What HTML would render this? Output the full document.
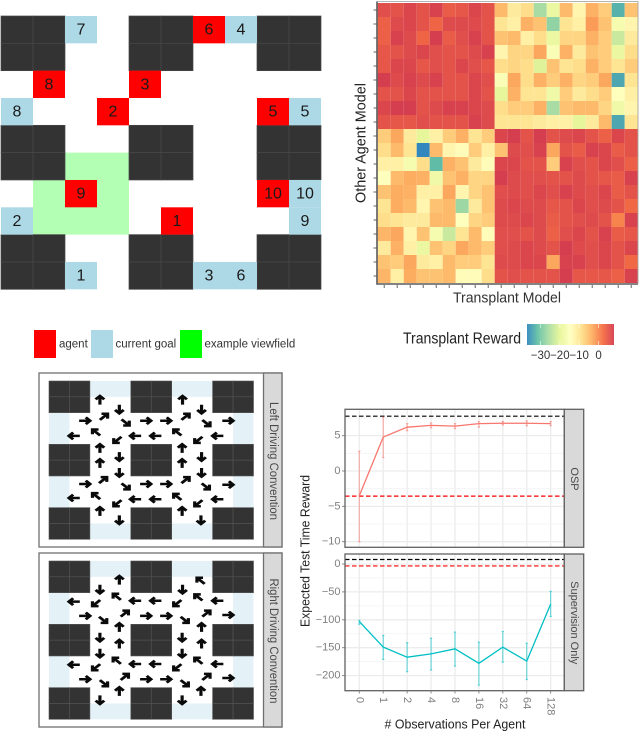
<!DOCTYPE html>
<html lang="en">
<head>
<meta charset="utf-8">
<title>Driving convention and transplant reward figure</title>
<style>
html,body{margin:0;padding:0;background:#fff;width:640px;height:732px;overflow:hidden}
svg{display:block;filter:blur(0.3px)}
text{font-family:"Liberation Sans",Arial,sans-serif}
</style>
</head>
<body>
<svg id="fig" xmlns="http://www.w3.org/2000/svg" width="640" height="732" viewBox="0 0 640 732">
  <g id="world"></g>
  <g id="heat"></g>
  <text x="507" y="298" font-size="15" fill="#333" text-anchor="middle" dominant-baseline="central" textLength="108" lengthAdjust="spacingAndGlyphs">Transplant Model</text>
  <text transform="translate(361,143) rotate(-90)" font-size="15" fill="#222" text-anchor="middle" dominant-baseline="central" textLength="120" lengthAdjust="spacingAndGlyphs">Other Agent Model</text>

  <g>
    <rect x="34" y="330" width="22" height="28" fill="#ff0000"/>
    <text x="59" y="344.5" font-size="11.5" fill="#333" dominant-baseline="central">agent</text>
    <rect x="91" y="330" width="22" height="28" fill="#add8e6"/>
    <text x="115.5" y="344.5" font-size="11.5" fill="#333" dominant-baseline="central">current goal</text>
    <rect x="180" y="330" width="22" height="28" fill="#00ff00"/>
    <text x="204.5" y="344.5" font-size="11.5" fill="#333" dominant-baseline="central">example viewfield</text>
  </g>

  <g>
    <defs>
      <linearGradient id="spectral" x1="0" x2="1" y1="0" y2="0">
        <stop offset="0" stop-color="#3288BD"/>
        <stop offset="0.125" stop-color="#66C2A5"/>
        <stop offset="0.25" stop-color="#ABDDA4"/>
        <stop offset="0.375" stop-color="#E6F598"/>
        <stop offset="0.5" stop-color="#FFFFBF"/>
        <stop offset="0.625" stop-color="#FEE08B"/>
        <stop offset="0.75" stop-color="#FDAE61"/>
        <stop offset="0.875" stop-color="#F46D43"/>
        <stop offset="1" stop-color="#D53E4F"/>
      </linearGradient>
    </defs>
    <text x="403" y="339" font-size="15.5" fill="#222" dominant-baseline="central" textLength="118" lengthAdjust="spacingAndGlyphs">Transplant Reward</text>
    <rect x="527" y="324" width="87" height="21" fill="url(#spectral)" opacity="0.95"/>
    <g id="cbticks"></g>
  </g>

  <g id="mapA"></g>
  <g id="mapB"></g>
  <g id="chart"></g>
</svg>
<script>
// ---------- chart data ----------
var obsLabels = ['0','1','2','4','8','16','32','64','128'];
var ospMean = [-3.5,4.8,6.2,6.45,6.35,6.7,6.75,6.75,6.7];
var ospLow  = [-10,1.9,5.7,6.1,6.0,6.2,6.5,6.4,6.4];
var ospHigh = [2.8,7.6,6.7,6.8,6.7,7.0,7.0,7.1,7.0];
var ospTicks = [5,0,-5,-10];
var ospMinor = [7.5,2.5,-2.5,-7.5];
var ospExpert = 7.75;
var ospBaseline = -3.55;
var supMean = [-103,-149,-167,-161,-152,-178,-149,-174,-72];
var supLow  = [-108,-171,-193,-190,-183,-217,-176,-207,-94];
var supHigh = [-101,-128,-141,-133,-122,-140,-121,-142,-49];
var supTicks = [0,-50,-100,-150,-200];
var supMinor = [-25,-75,-125,-175];
var supExpert = 8;
var supBaseline = -3.5;

var rewardTicks = [-30,-20,-10,0];
var heatValues = [
[5.5,5,6.5,5,7,4,4.5,6.5,5,-5,-11,-9,-26,-19,-5,-13,-4,-7,-33,-6],
[3.5,6,6.5,5,3,6,6,6,5,-10,-12,-4,-6,-28,-10,-12,-2,-6,-17,-13],
[3.5,7,6,3,7.5,4,5.5,7,5,-6,-5,-12,-9,-19,-8,-8,-4,-7,-23,-11],
[4.5,5,6,6.5,5.5,5,5,6,7,-13,-8,-8,-3,-16,-4,-11,-6,-7,-19,-9],
[4.5,6.5,6.5,4.5,5.5,5,6.5,5.5,4.5,-9,-8,-9,-21,-6,-10,-9,-4,-7,-10,-7],
[7.5,6,7,6,7,5,5,6.5,5.5,-16,-3,-9,-4,-7,-4,-8,-7,-3,-34,-10],
[5,5,6.5,5,5,5,5,6.5,5,-20,-4,-10,-10,-18,-7,-11,-9,-7,-15,-12],
[6.5,7.5,7.5,5,6,7,7,6.5,6,-9,-7,-7,-4,-26,-6,-5,-5,-8,-18,-13],
[5,4.5,4.5,5.5,5,5,5,7,6,-10,-10,-10,-11,-12,-12,-20,-11,-5,-34,-10],
[-7,-3,-11,-20,-12,-7,-4,-10,-7,6.5,7.5,5,7.5,5,6,6.5,5,3.5,6.5,5],
[-9,-5,-10,-37,-5,-13,-14,-7,-12,-6,6,5.5,7,-3,5,4,7,6.5,4,5],
[-12,-12,-17,-9,-32,-4,-6,-11,-14,6.5,6.5,5,5,-7,7,5.5,5,6.5,5.5,3.5],
[-15,-5,-3.5,-4,-18,-6,-4,-8,-8,7.5,6,5.5,5.5,5,5,6,5,4.5,4,7],
[-6,-3.5,-4,-12,-12,-3,-13,-8,-6,5.5,6,5.5,6.5,5.5,7,6,5.5,6.5,4,5],
[-10,-3.5,-5,-13,-6,-5,-27,-11,-6,6,6.5,6,6,4.5,5,6.5,5.5,6,5,2.5],
[-9,-10,-11,-11,-5,-5,-15,-8,-7,6,6,6.5,6,4,5,5.5,6,5,0,7],
[-4.5,-3,-13,-6,-17,-23,-10,-5,-14,5.5,5.5,5,6,3.5,5.5,6.5,5,7,4,4.5],
[-11,-4,-12,-19,-6,-8,-3,-5,-7,5.5,6,6.5,6,5,7.5,6,5.5,6.5,5,6.5],
[-6,-7,-3,-11,-12,-5,-7,-7,-10,6,6,6.5,6.5,-3,7,7,5.5,6.5,5,2.5],
[-4.5,-12,-3.5,-6,-6,-5,-14,-14,-9,5,5.5,5,5,5,7.5,4.5,4.5,4.5,3.5,7]
];

// ---------- gridworld data (col,row,label) ----------
var worldWalls = [[0,0],[4,0],[8,0],[0,4],[4,4],[8,4],[0,8],[4,8],[8,8]];
var worldView = [[2,5,2,1],[1,6,3,2]];
var worldAgents = [[5,7,'1'],[3,3,'2'],[4,2,'3'],[6,0,'6'],[8,3,'5'],[1,2,'8'],[2,6,'9'],[8,6,'10']];
var worldGoals = [[2,9,'1'],[0,7,'2'],[6,9,'3'],[7,0,'4'],[9,3,'5'],[7,9,'6'],[2,0,'7'],[0,3,'8'],[9,7,'9'],[9,6,'10']];

// ---------- policy data: cell-unit position + heading ----------
var leftPolicy = [
[2.49,1.2,'U'],[3.44,1.79,'D'],[6.53,1.2,'U'],[7.46,1.79,'D'],
[1.76,2.51,'R'],[2.69,2.25,'UR'],[3.75,2.63,'DR'],[4.74,2.51,'R'],[5.72,2.51,'R'],[6.68,2.25,'UR'],[7.7,2.67,'DR'],[8.76,2.51,'R'],
[1.22,3.47,'L'],[2.3,3.24,'UL'],[3.34,3.73,'DL'],[4.22,3.47,'L'],[5.21,3.47,'L'],[6.27,3.24,'UL'],[7.3,3.73,'DL'],[8.24,3.47,'L'],
[2.49,4.25,'U'],[3.44,4.78,'D'],[6.51,4.25,'U'],[7.46,4.78,'D'],
[2.49,5.2,'U'],[3.44,5.79,'D'],[6.51,5.2,'U'],[7.46,5.79,'D'],
[1.76,6.51,'R'],[2.65,6.25,'UR'],[3.75,6.67,'DR'],[4.74,6.51,'R'],[5.72,6.51,'R'],[6.68,6.25,'UR'],[7.67,6.67,'DR'],[8.76,6.55,'R'],
[1.22,7.39,'L'],[2.3,7.26,'UL'],[3.34,7.73,'DL'],[4.22,7.47,'L'],[5.21,7.47,'L'],[6.27,7.31,'UL'],[7.3,7.73,'DL'],[8.24,7.47,'L'],
[2.49,8.23,'U'],[3.44,8.78,'D'],[6.51,8.23,'U'],[7.43,8.78,'D']
];
var rightPolicy = [
[3.44,1.2,'U'],[2.49,1.79,'D'],[6.53,1.79,'D'],[7.41,1.24,'UL'],
[1.22,2.57,'L'],[2.3,2.67,'DL'],[3.31,2.25,'UL'],[4.22,2.51,'L'],[5.21,2.51,'L'],[6.27,2.67,'DL'],[7.3,2.29,'UL'],[8.24,2.51,'L'],
[1.76,3.47,'R'],[2.65,3.73,'DR'],[3.71,3.31,'UR'],[4.74,3.47,'R'],[5.72,3.47,'R'],[6.64,3.73,'DR'],[7.7,3.31,'UR'],[8.76,3.41,'R'],
[3.44,4.19,'U'],[2.49,4.82,'D'],[7.46,4.19,'U'],[6.51,4.82,'D'],
[3.44,5.24,'U'],[2.49,5.83,'D'],[7.46,5.24,'U'],[6.51,5.83,'D'],
[1.22,6.55,'L'],[2.3,6.72,'DL'],[3.31,6.29,'UL'],[4.22,6.51,'L'],[5.21,6.51,'L'],[6.27,6.72,'DL'],[7.3,6.29,'UL'],[8.24,6.51,'L'],
[1.76,7.47,'R'],[2.69,7.73,'DR'],[3.71,7.31,'UR'],[4.74,7.47,'R'],[5.72,7.47,'R'],[6.64,7.73,'DR'],[7.7,7.31,'UR'],[8.76,7.39,'R'],
[3.44,8.23,'U'],[2.49,8.78,'D'],[7.43,8.23,'U'],[6.51,8.78,'D']
];
var headingDegrees = {R:0,DR:45,D:90,DL:135,L:180,UL:225,U:270,UR:315};
var fieldCells = [[2,0,2,1],[6,0,2,1],[0,2,1,2],[9,2,1,2],[0,6,1,2],[9,6,1,2],[2,9,2,1],[6,9,2,1]];

// ---------- helpers ----------
var NS = 'http://www.w3.org/2000/svg';
function make(tag, attrs, parent, txt) {
  var e = document.createElementNS(NS, tag);
  for (var k in attrs) e.setAttribute(k, attrs[k]);
  if (txt !== undefined) e.textContent = txt;
  parent.appendChild(e);
  return e;
}
function fmt(v) { return String(v).replace('-', '\u2212'); }
function byId(id) { return document.getElementById(id); }

// ---------- gridworld ----------
(function () {
  var g = byId('world');
  var x0 = 1, y0 = 16, cw = 32, ch = 27.33;
  function X(c) { return x0 + cw * c; }
  function Y(r) { return y0 + ch * r; }
  worldView.forEach(function (v) {
    var e = make('rect', {x:X(v[0]), y:Y(v[1]), width:cw*v[2], height:ch*v[3], fill:'#b3ffb3'}, g);
    
    
  });
  worldWalls.forEach(function (w) {
    for (var i = 0; i < 2; i++) for (var j = 0; j < 2; j++) {
      var e = make('rect', {x:X(w[0]+i), y:Y(w[1]+j), width:cw, height:ch, fill:'#333333', stroke:'#484848', 'stroke-width':0.7}, g);
      
      
    }
  });
  function cells(list, color, name) {
    list.forEach(function (a) {
      var r = make('rect', {x:X(a[0]), y:Y(a[1]), width:cw, height:ch, fill:color}, g);
      
      
      var t = make('text', {x:X(a[0])+cw/2, y:Y(a[1])+ch/2+0.5, 'font-size':16, fill:'#1a1a1a', 'text-anchor':'middle', 'dominant-baseline':'central'}, g, a[2]);
      
      
    });
  }
  cells(worldAgents, '#ff0000', 'agent');
  cells(worldGoals, '#add8e6', 'goal');
})();

// ---------- heatmap ----------
var colorStops = ['#3288BD','#66C2A5','#ABDDA4','#E6F598','#FFFFBF','#FEE08B','#FDAE61','#F46D43','#D53E4F'];
var rewardMin = -37, rewardMax = 7.5, legendMax = 8;
function rewardColor(v) {
  var t = Math.max(0, Math.min(1, (v - rewardMin) / (rewardMax - rewardMin))) * 8;
  var i = Math.min(7, Math.floor(t)), f = t - i;
  function ch(hex, p) { return parseInt(hex.substr(p, 2), 16); }
  var a = colorStops[i], b = colorStops[i + 1];
  return 'rgb(' + [1,3,5].map(function (p) { return Math.round(ch(a,p) + (ch(b,p) - ch(a,p)) * f); }).join(',') + ')';
}
(function () {
  var g = byId('heat');
  var x0 = 377.7, y0 = 3, cw = 13, ch = 14;
  heatValues.forEach(function (row, r) {
    row.forEach(function (v, c) {
      var e = make('rect', {x:x0+c*cw, y:y0+r*ch, width:cw, height:ch, fill:rewardColor(v)}, g);
      
      
    });
  });
  for (var i = 0; i < 20; i++) {
    var a = make('line', {x1:x0+(i+.5)*cw, x2:x0+(i+.5)*cw, y1:285, y2:288, stroke:'#555', 'stroke-width':0.9}, g);
    
    
    var b = make('line', {x1:373.5, x2:376.5, y1:y0+(i+.5)*ch, y2:y0+(i+.5)*ch, stroke:'#555', 'stroke-width':0.9}, g);
    
    
  }
  var f = make('path', {d:'M377 1.5V284H638', fill:'none', stroke:'#5a5a5a', 'stroke-width':1.6}, g);
  
  
  var f2 = make('path', {d:'M377 1.5H638V284', fill:'none', stroke:'#9a9a9a', 'stroke-width':0.8}, g);
  
  

  var cb = byId('cbticks');
  function cbX(v) { return 527 + (v - rewardMin) / (legendMax - rewardMin) * 87; }
  rewardTicks.forEach(function (v) {
    var l = make('line', {x1:cbX(v), x2:cbX(v), y1:324, y2:345, stroke:'#fff', 'stroke-width':0.8, 'stroke-opacity':0.7, 'stroke-dasharray':'4 13'}, cb);
    
    
    var t = make('text', {x:cbX(v), y:356, 'font-size':11.5, fill:'#333', 'text-anchor':'middle', 'dominant-baseline':'central'}, cb, fmt(v));
    
    
  });
})();

// ---------- policy maps ----------
function drawPolicy(g, top, mapY, policy, label, labelY, labelLen, key) {
  var x0 = 49, cw = 20.45, ch = 15.83;
  function X(c) { return x0 + cw * c; }
  function Y(r) { return mapY + ch * r; }
  var fr = make('rect', {x:39, y:top, width:243, height:174, fill:'#fff', stroke:'#707070', 'stroke-width':1.3}, g);
  
  
  fieldCells.forEach(function (f) {
    var e = make('rect', {x:X(f[0]), y:Y(f[1]), width:cw*f[2], height:ch*f[3], fill:'#e4f2f8'}, g);
    
    
  });
  worldWalls.forEach(function (w) {
    for (var i = 0; i < 2; i++) for (var j = 0; j < 2; j++) {
      var e = make('rect', {x:X(w[0]+i), y:Y(w[1]+j), width:cw, height:ch, fill:'#333333', stroke:'#555', 'stroke-width':0.6}, g);
      
      
    }
  });
  policy.forEach(function (p) {
    var tr = 'translate(' + X(p[0]).toFixed(2) + ',' + Y(p[1]).toFixed(2) + ') scale(1.27,1) rotate(' + headingDegrees[p[2]] + ')';
    var a = make('path', {d:'M-4.6 0H3.6M0.6 -3.4L4 0L0.6 3.4', fill:'none', stroke:'#0a0a0a', 'stroke-width':2.5, transform:tr}, g);
    
    
  });
  var s = make('rect', {x:263.5, y:top, width:18.5, height:174, fill:'#d9d9d9', stroke:'#707070', 'stroke-width':1.3}, g);
  
  
  var t = make('text', {transform:'translate(273,' + labelY + ') rotate(90)', 'font-size':11.5, fill:'#4a4a4a', 'text-anchor':'middle', 'dominant-baseline':'central', textLength:labelLen, lengthAdjust:'spacingAndGlyphs'}, g, label);
  
  
}
drawPolicy(byId('mapA'), 373, 381, leftPolicy, 'Left Driving Convention', 461, 118, 'left-map');
drawPolicy(byId('mapB'), 553, 561, rightPolicy, 'Right Driving Convention', 641, 125, 'right-map');

// ---------- line chart ----------
(function () {
  var g = byId('chart');
  var left = 345, right = 564.3, stripR = 583.7;
  function xObs(i) { return 359.3 + 23.92 * i; }
  function panel(o) {
    var y = o.y;
    var bg = make('rect', {x:left, y:o.top, width:right-left, height:o.bottom-o.top, fill:'#fff'}, g);
    
    
    o.minor.forEach(function (v) {
      var l = make('line', {x1:left, x2:right, y1:y(v), y2:y(v), stroke:'#f3f3f3', 'stroke-width':0.8}, g);
      
      
    });
    o.ticks.forEach(function (v) {
      var l = make('line', {x1:left, x2:right, y1:y(v), y2:y(v), stroke:'#ececec', 'stroke-width':1.3}, g);
      
      
      var k = make('line', {x1:342, x2:345, y1:y(v), y2:y(v), stroke:'#7f7f7f', 'stroke-width':0.9}, g);
      
      
      var t = make('text', {x:340.5, y:y(v), 'font-size':11, fill:'#7f7f7f', 'text-anchor':'end', 'dominant-baseline':'central'}, g, fmt(v));
      
      
    });
    obsLabels.forEach(function (_, i) {
      var l = make('line', {x1:xObs(i), x2:xObs(i), y1:o.top, y2:o.bottom, stroke:'#ececec', 'stroke-width':1.3}, g);
      
      
    });
    var bk = make('line', {x1:left, x2:right, y1:y(o.expert), y2:y(o.expert), stroke:'#000', 'stroke-width':1.2, 'stroke-dasharray':'4.5 2.5'}, g);
    
    
    var rd = make('line', {x1:left, x2:right, y1:y(o.base), y2:y(o.base), stroke:'#ff0000', 'stroke-width':1.2, 'stroke-dasharray':'4.5 2.5'}, g);
    
    
    o.mean.forEach(function (m, i) {
      var c = {stroke:o.color, 'stroke-width':1.2, 'stroke-opacity':0.55};
      var e = make('line', Object.assign({x1:xObs(i), x2:xObs(i), y1:y(o.low[i]), y2:y(o.high[i])}, c), g);
      
      
      var c1 = make('line', Object.assign({x1:xObs(i)-1.2, x2:xObs(i)+1.2, y1:y(o.low[i]), y2:y(o.low[i])}, c), g);
      
      
      var c2 = make('line', Object.assign({x1:xObs(i)-1.2, x2:xObs(i)+1.2, y1:y(o.high[i]), y2:y(o.high[i])}, c), g);
      
      
    });
    var pts = o.mean.map(function (m, i) { return xObs(i).toFixed(2) + ',' + y(m).toFixed(2); }).join(' ');
    var pl = make('polyline', {points:pts, fill:'none', stroke:o.color, 'stroke-width':1.3}, g);
    
    
    var br = make('rect', {x:left, y:o.top, width:right-left, height:o.bottom-o.top, fill:'none', stroke:'#606060', 'stroke-width':1.3}, g);
    
    
    var st = make('rect', {x:right, y:o.top, width:stripR-right, height:o.bottom-o.top, fill:'#d9d9d9', stroke:'#606060', 'stroke-width':1.3}, g);
    
    
    var tx = make('text', {transform:'translate(574,' + o.labelY + ') rotate(90)', 'font-size':11, fill:'#4a4a4a', 'text-anchor':'middle', 'dominant-baseline':'central'}, g, o.label);
    
    
  }
  panel({key:'osp', top:409.3, bottom:547.3, y:function (v) { return 471 - 7.07 * v; },
    ticks:ospTicks, minor:ospMinor, expert:ospExpert, base:ospBaseline, mean:ospMean, low:ospLow, high:ospHigh,
    color:'#F8766D', label:'OSP', labelY:479});
  panel({key:'supervision', top:554, bottom:690.7, y:function (v) { return 564 - 0.558 * v; },
    ticks:supTicks, minor:supMinor, expert:supExpert, base:supBaseline, mean:supMean, low:supLow, high:supHigh,
    color:'#00BFC4', label:'Supervision Only', labelY:622.7});
  obsLabels.forEach(function (lab, i) {
    var k = make('line', {x1:xObs(i), x2:xObs(i), y1:690.7, y2:693.5, stroke:'#7f7f7f', 'stroke-width':0.9}, g);
    
    
    var t = make('text', {transform:'translate(' + xObs(i) + ',697) rotate(90)', 'font-size':11, fill:'#7f7f7f', 'text-anchor':'start', 'dominant-baseline':'central'}, g, lab);
    
    
  });
  var xt = make('text', {x:455, y:724, 'font-size':13, fill:'#222', 'text-anchor':'middle', 'dominant-baseline':'central', textLength:141, lengthAdjust:'spacingAndGlyphs'}, g, '# Observations Per Agent');
  
  
  var yt = make('text', {transform:'translate(305,551) rotate(-90)', 'font-size':13, fill:'#222', 'text-anchor':'middle', 'dominant-baseline':'central', textLength:152, lengthAdjust:'spacingAndGlyphs'}, g, 'Expected Test Time Reward');
  
  
})();
</script>
</body>
</html>
